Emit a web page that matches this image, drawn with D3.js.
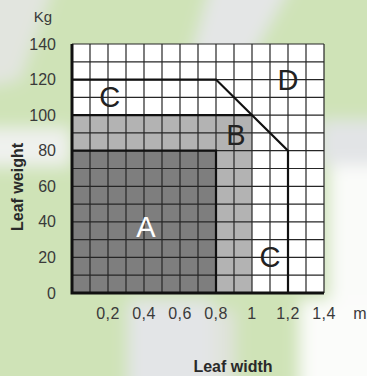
<!DOCTYPE html>
<html>
<head>
<meta charset="utf-8">
<script src="https://cdn.jsdelivr.net/npm/d3@7"></script>
<style>
  html, body { margin: 0; padding: 0; }
  body { width: 367px; height: 376px; overflow: hidden; font-family: "Liberation Sans", Arial, sans-serif; }
</style>
</head>
<body>
<div id="chart"></div>
<script>
// data
const xTicks = [0.2, 0.4, 0.6, 0.8, 1.0, 1.2, 1.4];
const yTicks = [0, 20, 40, 60, 80, 100, 120, 140];
const regionA = [[0, 0], [0.8, 0], [0.8, 80], [0, 80]];
const regionB = [[0, 0], [1.0, 0], [1.0, 100], [0, 100]];
const boundaryC = [[0, 120], [0.8, 120], [1.2, 80], [1.2, 0]];
const zoneLabels = [
  { t: 'A', x: 0.41, y: 37, fill: '#fff' },
  { t: 'B', x: 0.91, y: 89, fill: '#222' },
  { t: 'C', x: 0.21, y: 110, fill: '#222' },
  { t: 'C', x: 1.10, y: 20, fill: '#222' },
  { t: 'D', x: 1.20, y: 120, fill: '#222' }
];

const W = 367, H = 376;
const margin = { top: 44, right: 43, bottom: 83, left: 72 };

const svg = d3.select('#chart').append('svg')
  .attr('width', W).attr('height', H);

// blurred photo-like background
const defs = svg.append('defs');
defs.append('filter').attr('id', 'blur')
  .attr('x', '-20%').attr('y', '-20%').attr('width', '140%').attr('height', '140%')
  .append('feGaussianBlur').attr('stdDeviation', 8);

const bg = svg.append('g').attr('filter', 'url(#blur)');
bg.append('rect').attr('x', -30).attr('y', -30).attr('width', W + 60).attr('height', H + 60).attr('fill', '#cfe3b7');
bg.append('path').attr('d', 'M-30,-30 L60,-30 L20,80 L-30,90 Z').attr('fill', '#e2e5df');
bg.append('path').attr('d', 'M215,-30 L300,-30 L250,60 L190,60 Z').attr('fill', '#e4e6e6');
bg.append('rect').attr('x', -30).attr('y', 128).attr('width', 100).attr('height', 38).attr('fill', '#eff1ee');
bg.append('rect').attr('x', 320).attr('y', 120).attr('width', 80).attr('height', 45).attr('fill', '#e2e4e6');
bg.append('rect').attr('x', 330).attr('y', 165).attr('width', 80).attr('height', 260).attr('fill', '#fafbf9');
bg.append('rect').attr('x', 300).attr('y', 300).attr('width', 100).attr('height', 100).attr('fill', '#fbfcfa');
bg.append('rect').attr('x', 128).attr('y', 300).attr('width', 85).attr('height', 100).attr('fill', '#e3e5e7');
bg.append('rect').attr('x', 213).attr('y', 310).attr('width', 22).attr('height', 90).attr('fill', '#e0e3dc');

const x = d3.scaleLinear().domain([0, 1.4]).range([margin.left, W - margin.right]);
const y = d3.scaleLinear().domain([0, 140]).range([H - margin.bottom, margin.top]);

const line = d3.line().x(d => x(d[0])).y(d => y(d[1]));

// plot area
svg.append('rect')
  .attr('x', x(0)).attr('y', y(140))
  .attr('width', x(1.4) - x(0)).attr('height', y(0) - y(140))
  .attr('fill', '#fff');

svg.append('path').attr('d', line(regionB) + 'Z').attr('fill', '#b3b3b3');
svg.append('path').attr('d', line(regionA) + 'Z').attr('fill', '#7e7e7e');

// grid every 0.1 m and 10 kg
const gx = d3.range(0, 15).map(i => i / 10);
const gy = d3.range(0, 15).map(i => i * 10);
svg.append('g').selectAll('line').data(gx).join('line')
  .attr('x1', d => x(d)).attr('x2', d => x(d))
  .attr('y1', y(0)).attr('y2', y(140))
  .attr('stroke', '#262626').attr('stroke-width', 1.2);
svg.append('g').selectAll('line').data(gy).join('line')
  .attr('x1', x(0)).attr('x2', x(1.4))
  .attr('y1', d => y(d)).attr('y2', d => y(d))
  .attr('stroke', '#262626').attr('stroke-width', 1.2);

// zone borders
const border = (pts) => svg.append('path').attr('d', line(pts))
  .attr('fill', 'none').attr('stroke', '#111').attr('stroke-width', 2.2);
border([[0, 80], [0.8, 80], [0.8, 0]]);
border([[0, 100], [1.0, 100]]);
border(boundaryC);

// axis lines
svg.append('path').attr('d', line([[0, 140], [0, 0], [1.4, 0]]))
  .attr('fill', 'none').attr('stroke', '#111').attr('stroke-width', 3);

// zone letters
svg.append('g').selectAll('text').data(zoneLabels).join('text')
  .attr('x', d => x(d.x)).attr('y', d => y(d.y) + 10)
  .attr('text-anchor', 'middle')
  .attr('font-size', 29)
  .attr('fill', d => d.fill)
  .text(d => d.t);

// tick labels
svg.append('g').selectAll('text').data(yTicks).join('text')
  .attr('x', 56).attr('y', d => y(d) + 5.5)
  .attr('text-anchor', 'end')
  .attr('font-size', 16).attr('fill', '#3a3a3a')
  .text(d => d);

svg.append('g').selectAll('text').data(xTicks).join('text')
  .attr('x', d => x(d)).attr('y', 319)
  .attr('text-anchor', 'middle')
  .attr('font-size', 16).attr('fill', '#3a3a3a')
  .attr('letter-spacing', 0.5)
  .text(d => String(+d.toFixed(1)).replace('.', ','));

svg.append('text').attr('x', 360).attr('y', 319).attr('text-anchor', 'middle')
  .attr('font-size', 16).attr('fill', '#3a3a3a').text('m');
svg.append('text').attr('x', 43).attr('y', 22).attr('text-anchor', 'middle')
  .attr('font-size', 15).attr('fill', '#3a3a3a').text('Kg');

// axis titles
svg.append('text').attr('x', 233).attr('y', 372).attr('text-anchor', 'middle')
  .attr('font-size', 16).attr('font-weight', 'bold').attr('fill', '#2a2a2a')
  .text('Leaf width');
svg.append('text')
  .attr('transform', 'translate(23,187) rotate(-90)')
  .attr('text-anchor', 'middle')
  .attr('font-size', 16).attr('font-weight', 'bold').attr('fill', '#2a2a2a')
  .text('Leaf weight');
</script>
</body>
</html>
